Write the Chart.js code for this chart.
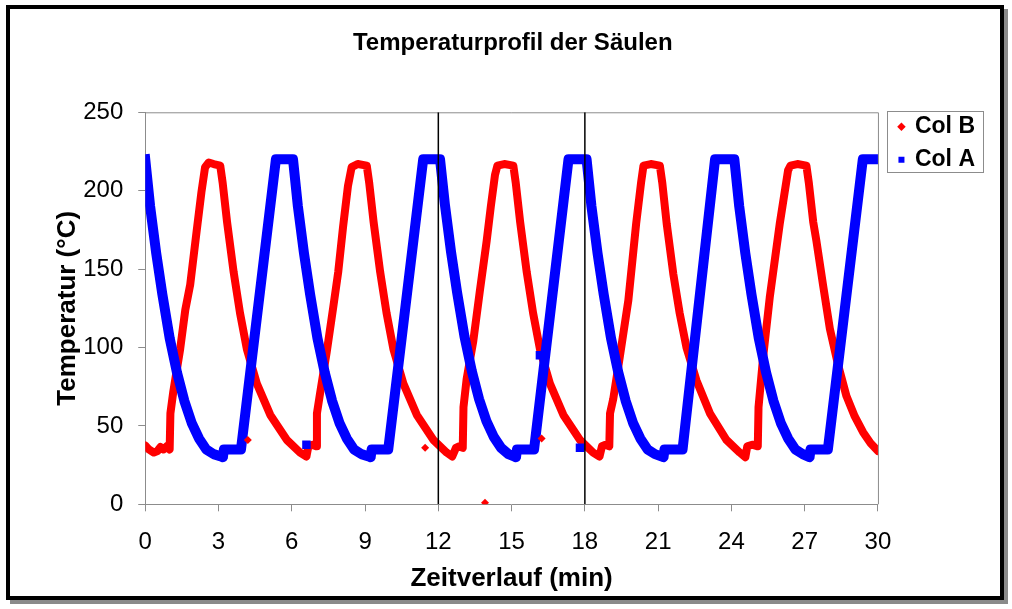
<!DOCTYPE html>
<html>
<head>
<meta charset="utf-8">
<script src="https://cdn.jsdelivr.net/npm/chart.js@4.4.1/dist/chart.umd.min.js"></script>
<style>
  html, body { margin: 0; padding: 0; background: #fff; }
  #frame {
    position: absolute; left: 6px; top: 5px; width: 998px; height: 595px;
    box-sizing: border-box; border: 4px solid #000; box-shadow: 4px 4px 0 #8a8a8a; background: #fff;
  }
  #chart { position: absolute; left: 0; top: 0; }
</style>
</head>
<body>
<div id="frame"><canvas id="chart" width="990" height="587"></canvas></div>
<script>
// Col A (blue) - [time in min, temperature in °C]
const colA = [
  [0, 220], [0.2, 190], [0.45, 160], [0.7, 134], [1.0, 106], [1.3, 84], [1.6, 66], [1.9, 52], [2.2, 42], [2.5, 35],
  [2.8, 32], [3.1, 30.5], [3.18, 30], [3.22, 35], [3.92, 35], [5.35, 220], [6.05, 220],
  [6.25, 190], [6.5, 160], [6.75, 134], [7.05, 106], [7.35, 84], [7.65, 66], [7.95, 52], [8.25, 42], [8.55, 35],
  [8.85, 32], [9.15, 30.5], [9.23, 30], [9.27, 35], [9.95, 35], [11.38, 220], [12.07, 220],
  [12.27, 191], [12.52, 161], [12.77, 135], [13.07, 107], [13.37, 85], [13.67, 67], [13.97, 53], [14.27, 43], [14.57, 36],
  [14.87, 32], [15.1, 30.5], [15.18, 30], [15.22, 35], [15.92, 35], [17.33, 220], [18.07, 220],
  [18.27, 190], [18.52, 160], [18.77, 134], [19.07, 106], [19.37, 84], [19.67, 66], [19.97, 52], [20.27, 42], [20.57, 35],
  [20.87, 32], [21.15, 30.5], [21.22, 30], [21.26, 35], [22.0, 35], [23.33, 220], [24.12, 220],
  [24.32, 190], [24.57, 160], [24.82, 134], [25.12, 106], [25.42, 84], [25.72, 66], [26.02, 52], [26.32, 42], [26.62, 35],
  [26.92, 32], [27.2, 30], [27.24, 35], [27.95, 35], [29.38, 220], [30, 220],
];

// Col B (red)
const colB = [
  [0, 37.5], [0.15, 35], [0.35, 33], [0.5, 34], [0.62, 36.5], [0.75, 35], [0.88, 37], [1.0, 35],
  [1.03, 58], [1.15, 72], [1.43, 99], [1.64, 124], [1.84, 140], [2.11, 175], [2.3, 199], [2.45, 215], [2.6, 218], [2.8, 217], [3.07, 216],
  [3.17, 205], [3.35, 180], [3.62, 148], [3.88, 122], [4.16, 99], [4.57, 77], [5.12, 57], [5.8, 41], [6.34, 33], [6.6, 30.5],
  [6.68, 37], [6.85, 38], [7.0, 37],
  [7.03, 58], [7.15, 70], [7.43, 97], [7.7, 126], [7.9, 148], [8.1, 177], [8.3, 203], [8.45, 215], [8.7, 217], [9.07, 216],
  [9.17, 205], [9.35, 180], [9.62, 148], [9.88, 122], [10.16, 99], [10.57, 77], [11.12, 57], [11.8, 41], [12.34, 33], [12.57, 30.5],
  [12.72, 36], [12.85, 37], [13.0, 36],
  [13.03, 62], [13.16, 80], [13.43, 104], [13.7, 136], [13.98, 168], [14.15, 190], [14.32, 210], [14.42, 216], [14.7, 217], [15.07, 216],
  [15.17, 205], [15.35, 180], [15.62, 148], [15.88, 122], [16.16, 99], [16.57, 77], [17.12, 57], [17.8, 41], [18.34, 33], [18.6, 30.5],
  [18.7, 37], [18.85, 38], [19.0, 37],
  [19.03, 58], [19.16, 67], [19.43, 94], [19.78, 130], [20.1, 179], [20.3, 205], [20.4, 216], [20.7, 217], [21.07, 216],
  [21.17, 205], [21.35, 179], [21.62, 147], [21.88, 122], [22.16, 100], [22.57, 79], [23.12, 58], [23.8, 41], [24.34, 33], [24.57, 30],
  [24.65, 37], [24.85, 38], [25.08, 37],
  [25.11, 62], [25.3, 94], [25.57, 132], [25.98, 179], [26.32, 213], [26.42, 216], [26.7, 217], [27.07, 216],
  [27.17, 205], [27.35, 180], [27.48, 168], [27.75, 140], [28.03, 112], [28.35, 90], [28.71, 69], [29.05, 56], [29.39, 46], [29.7, 39], [30, 34],
];

// single readings
const colAStray = [[6.6, 38], [16.16, 95], [17.8, 36]];
const colBStray = [[4.2, 41], [11.46, 36], [13.91, 1], [16.23, 42]];

// black vertical markers
const markerTimes = [12, 18];

const xTickValues = [0, 3, 6, 9, 12, 15, 18, 21, 24, 27, 30];
const yTickValues = [0, 50, 100, 150, 200, 250];

const toXY = (pts) => pts.map(([t, v]) => ({ x: t, y: v }));

Chart.defaults.font.family = "'Liberation Sans', Arial, sans-serif";
Chart.defaults.color = "#000";

const axisGray = "#8c8c8c";

// plot frame on top/right + legend box like the Excel original
const excelFrame = {
  id: "excelFrame",
  afterLayout(chart) {
    const lg = chart.legend;
    lg.left += 11.5;
    lg.right += 11.5;
    lg.top -= 7;
    lg.bottom -= 7;
  },
  beforeDatasetsDraw(chart) {
    const { ctx, chartArea: a } = chart;
    ctx.save();
    ctx.strokeStyle = axisGray;
    ctx.lineWidth = 1;
    ctx.beginPath();
    ctx.moveTo(a.left, a.top + 0.5);
    ctx.lineTo(a.right + 0.5, a.top + 0.5);
    ctx.lineTo(a.right + 0.5, a.bottom);
    ctx.stroke();
    ctx.restore();
  },
  afterDraw(chart) {
    const { ctx, legend: lg } = chart;
    ctx.save();
    ctx.strokeStyle = axisGray;
    ctx.lineWidth = 1;
    ctx.strokeRect(Math.round(lg.left - 2.5) + 0.5, Math.round(lg.top + 5.7) + 0.5, 96, 61);
    ctx.restore();
  },
};

const ctx = document.getElementById("chart").getContext("2d");
new Chart(ctx, {
  type: "line",
  data: {
    datasets: [
      ...markerTimes.map((t) => ({
        label: "Marker",
        data: [{ x: t, y: 0 }, { x: t, y: 250 }],
        borderColor: "#000",
        borderWidth: 1.5,
        pointRadius: 0,
        order: 0,
      })),
      {
        label: "Col A Einzelwert",
        data: toXY(colAStray),
        showLine: false,
        pointStyle: "rect",
        pointRadius: 6,
        pointBorderWidth: 0,
        backgroundColor: "#0000ff",
        borderColor: "#0000ff",
        order: 1,
      },
      {
        label: "Col B Einzelwert",
        data: toXY(colBStray),
        showLine: false,
        pointStyle: "rectRot",
        pointRadius: 4,
        pointBorderWidth: 0,
        backgroundColor: "#ff0000",
        borderColor: "#ff0000",
        order: 1,
      },
      {
        label: "Col A",
        data: toXY(colA),
        borderColor: "#0000ff",
        backgroundColor: "#0000ff",
        borderWidth: 10,
        borderJoinStyle: "round",
        borderCapStyle: "square",
        pointStyle: "rect",
        pointRadius: 0,
        pointBorderWidth: 0,
        tension: 0,
        order: 2,
      },
      {
        label: "Col B",
        data: toXY(colB),
        borderColor: "#ff0000",
        backgroundColor: "#ff0000",
        borderWidth: 8,
        borderJoinStyle: "round",
        borderCapStyle: "round",
        pointStyle: "rectRot",
        pointRadius: 0,
        pointBorderWidth: 0,
        tension: 0,
        order: 3,
      },
    ],
  },
  options: {
    responsive: false,
    animation: false,
    events: [],
    layout: { padding: { left: 42, right: 26.5, top: 0, bottom: 0 } },
    plugins: {
      title: {
        display: true,
        text: "Temperaturprofil der Säulen",
        font: { size: 24, weight: "bold" },
        padding: { top: 20, bottom: 54.5 },
      },
      legend: {
        position: "right",
        align: "start",
        fullSize: false,
        reverse: true,
        labels: {
          usePointStyle: true,
          boxWidth: 4,
          boxHeight: 6,
          padding: 10,
          font: { size: 23, weight: "bold" },
          generateLabels: (chart) =>
            Chart.defaults.plugins.legend.labels
              .generateLabels(chart)
              .filter((item) => item.text === "Col A" || item.text === "Col B")
              .map((item) => ({ ...item, lineWidth: 0 })),
        },
      },
      tooltip: { enabled: false },
    },
    scales: {
      x: {
        type: "linear",
        min: 0,
        max: 30,
        afterBuildTicks: (axis) => {
          axis.ticks = xTickValues.map((value) => ({ value }));
        },
        ticks: { font: { size: 24 }, padding: 17 },
        grid: { drawOnChartArea: false, tickLength: 7, color: axisGray },
        border: { color: axisGray },
        title: {
          display: true,
          text: "Zeitverlauf (min)",
          font: { size: 26, weight: "bold" },
          padding: { top: -11.3, bottom: 2 },
        },
      },
      y: {
        type: "linear",
        min: 0,
        max: 250,
        afterBuildTicks: (axis) => {
          axis.ticks = yTickValues.map((value) => ({ value }));
        },
        ticks: { font: { size: 24 }, padding: 15 },
        grid: { drawOnChartArea: false, tickLength: 7, color: axisGray },
        border: { color: axisGray },
        title: {
          display: true,
          text: "Temperatur (°C)",
          font: { size: 26, weight: "bold" },
          padding: { top: 0, bottom: -15 },
        },
      },
    },
  },
  plugins: [excelFrame],
});
</script>
</body>
</html>
